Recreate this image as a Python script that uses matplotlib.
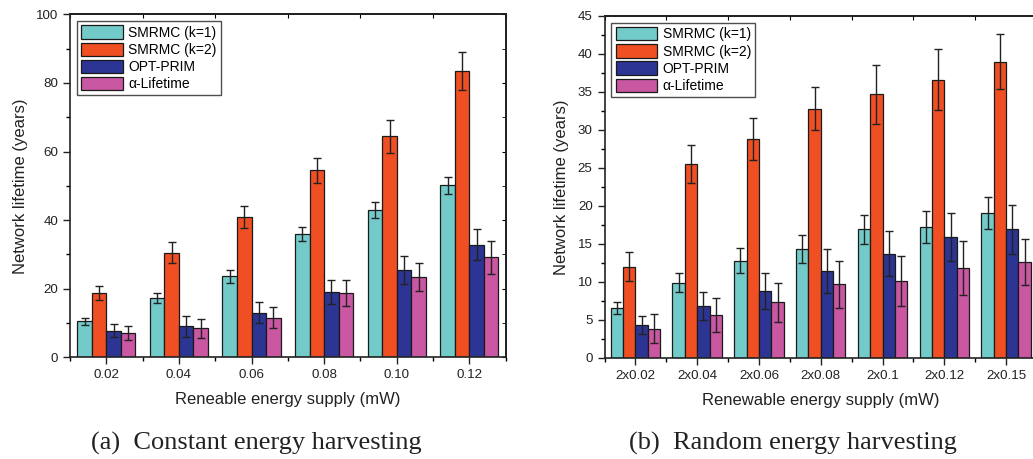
import matplotlib.pyplot as plt
import numpy as np
from matplotlib.ticker import MultipleLocator, FixedLocator

# data
labels_a = ["0.02", "0.04", "0.06", "0.08", "0.10", "0.12"]
smrmc1_a = [10.5, 17.2, 23.6, 35.9, 42.9, 50.1]
smrmc1_a_err = [1.0, 1.5, 1.8, 2.0, 2.3, 2.5]
smrmc2_a = [18.7, 30.5, 40.8, 54.5, 64.4, 83.4]
smrmc2_a_err = [2.0, 3.0, 3.2, 3.7, 4.7, 5.5]
prim_a = [7.8, 9.0, 13.0, 19.0, 25.5, 32.8]
prim_a_err = [2.0, 3.0, 3.1, 3.4, 4.0, 4.5]
alpha_a = [7.0, 8.4, 11.6, 18.8, 23.5, 29.1]
alpha_a_err = [2.0, 2.9, 3.2, 3.7, 4.1, 4.8]

labels_b = ["2x0.02", "2x0.04", "2x0.06", "2x0.08", "2x0.1", "2x0.12", "2x0.15"]
smrmc1_b = [6.6, 9.9, 12.8, 14.3, 16.9, 17.2, 19.0]
smrmc1_b_err = [0.8, 1.2, 1.6, 1.8, 1.9, 2.1, 2.1]
smrmc2_b = [12.0, 25.5, 28.8, 32.8, 34.7, 36.6, 39.0]
smrmc2_b_err = [1.9, 2.5, 2.8, 2.8, 3.9, 4.0, 3.6]
prim_b = [4.3, 6.8, 8.8, 11.4, 13.7, 15.9, 16.9]
prim_b_err = [1.2, 1.9, 2.4, 2.9, 3.0, 3.2, 3.2]
alpha_b = [3.8, 5.6, 7.3, 9.7, 10.1, 11.8, 12.6]
alpha_b_err = [1.9, 2.2, 2.6, 3.1, 3.3, 3.6, 3.0]

names = ["SMRMC (k=1)", "SMRMC (k=2)", "OPT-PRIM", "α-Lifetime"]
colors = ["#72CBC9", "#EF4F23", "#2C3593", "#C957A2"]

plt.rcParams['font.family'] = ['Liberation Sans', 'DejaVu Sans']

W, H = 1033, 459
fig = plt.figure(figsize=(W / 100, H / 100), dpi=100)


def draw(ax, labels, series, errs, ymax, ystep, xlabel):
  x = np.arange(1, len(labels) + 1)
  w = 0.2
  for i, (vals, err) in enumerate(zip(series, errs)):
    ax.bar(x + (i - 1.5) * w, vals, w, yerr=err, color=colors[i],
           edgecolor="#1a1a1a", linewidth=0.9, label=names[i],
           error_kw=dict(ecolor="#222222", elinewidth=1.0, capsize=3, capthick=1.0))
  ax.set_xlim(0.5, len(labels) + 0.5)
  ax.set_ylim(0, ymax)
  ax.set_xticks(x)
  ax.set_xticklabels(labels)
  ax.xaxis.set_minor_locator(FixedLocator(np.arange(0.5, len(labels) + 1, 1.0)))
  ax.yaxis.set_major_locator(MultipleLocator(ystep))
  ax.yaxis.set_minor_locator(MultipleLocator(ystep / 2))
  ax.tick_params(axis="both", which="major", direction="out", length=5, width=1,
                 labelsize=9.6, colors="#222222", top=False, right=False)
  ax.tick_params(axis="both", which="minor", direction="out", length=3, width=1,
                 top=False, right=False)
  for s in ax.spines.values():
    s.set_linewidth(1.2)
    s.set_color("#222222")
  # mirrored inward ticks on top / right
  sec_y = ax.secondary_yaxis("right")
  sec_y.yaxis.set_major_locator(MultipleLocator(ystep))
  sec_y.yaxis.set_minor_locator(MultipleLocator(ystep / 2))
  sec_y.tick_params(which="both", direction="in", length=3, labelright=False)
  sec_y.spines["right"].set_linewidth(1.2)
  sec_x = ax.secondary_xaxis("top")
  sec_x.set_xticks(np.arange(0.5, len(labels) + 1, 1.0))
  sec_x.tick_params(direction="in", length=3, labeltop=False)
  sec_x.spines["top"].set_linewidth(1.2)
  ax.set_xlabel(xlabel, fontsize=12, color="#222222", labelpad=8)
  ax.set_ylabel("Network lifetime (years)", fontsize=12, color="#222222", labelpad=6)
  leg = ax.legend(loc="upper left", fontsize=10, frameon=True, fancybox=False,
                  handlelength=3.0, handleheight=1.1, handletextpad=0.4,
                  labelspacing=0.2, borderpad=0.3, borderaxespad=0.5)
  leg.get_frame().set_edgecolor("#222222")
  leg.get_frame().set_linewidth(1.0)


ax1 = fig.add_axes([70 / W, 1 - 357.3 / H, 435.7 / W, 343 / H])
draw(ax1, labels_a, [smrmc1_a, smrmc2_a, prim_a, alpha_a],
     [smrmc1_a_err, smrmc2_a_err, prim_a_err, alpha_a_err], 100, 20,
     "Reneable energy supply (mW)")

ax2 = fig.add_axes([604.5 / W, 1 - 357.7 / H, 432.5 / W, 341.7 / H])
draw(ax2, labels_b, [smrmc1_b, smrmc2_b, prim_b, alpha_b],
     [smrmc1_b_err, smrmc2_b_err, prim_b_err, alpha_b_err], 45, 5,
     "Renewable energy supply (mW)")

fig.text(256 / W, 1 - 443 / H, "(a)  Constant energy harvesting", ha="center", va="center",
         fontsize=19, family="Liberation Serif", color="#222222")
fig.text(793 / W, 1 - 443 / H, "(b)  Random energy harvesting", ha="center", va="center",
         fontsize=19, family="Liberation Serif", color="#222222")

fig.savefig("out.png", dpi=100)
